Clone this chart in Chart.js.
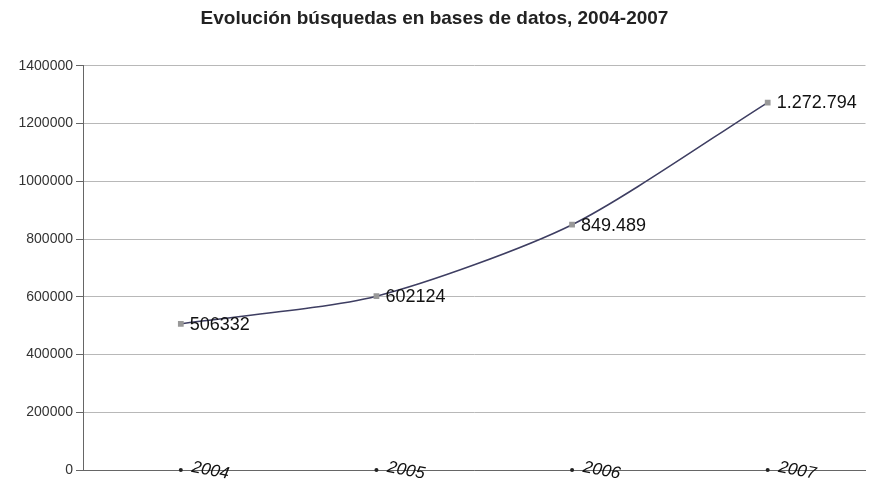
<!DOCTYPE html>
<html>
<head>
<meta charset="utf-8">
<script src="https://cdn.jsdelivr.net/npm/chart.js@4"></script>
<style>
  html, body { margin: 0; padding: 0; background: #fff; }
  #wrap { width: 871px; height: 485px; }
</style>
</head>
<body>
<div id="wrap"><canvas id="myChart"></canvas></div>
<script>
const years = ['2004', '2005', '2006', '2007'];
const searches = [506332, 602124, 849489, 1272794];
const pointLabels = ['506332', '602124', '849.489', '1.272.794'];
const yTicks = [0, 200000, 400000, 600000, 800000, 1000000, 1200000, 1400000];

// draws the slanted year labels on the axis and the value labels next to the points
const labelsPlugin = {
  id: 'labels',
  afterDatasetsDraw(chart) {
    const ctx = chart.ctx;
    const x = chart.scales.x;
    const y = chart.scales.y;
    const base = y.getPixelForValue(0);
    ctx.save();
    years.forEach((yr, i) => {
      const px = x.getPixelForValue(i);
      ctx.fillStyle = '#222';
      ctx.beginPath();
      ctx.arc(px, base, 2, 0, Math.PI * 2);
      ctx.fill();
      ctx.save();
      ctx.translate(px + 11, base - 3);
      ctx.rotate(11 * Math.PI / 180);
      ctx.font = 'italic 17px Arial';
      ctx.textAlign = 'left';
      ctx.textBaseline = 'middle';
      ctx.fillStyle = '#111';
      ctx.fillText(yr, 0, 0);
      ctx.restore();
    });
    const meta = chart.getDatasetMeta(0);
    meta.data.forEach((pt, i) => {
      ctx.font = '18px Arial';
      ctx.textAlign = 'left';
      ctx.textBaseline = 'middle';
      ctx.fillStyle = '#111';
      ctx.fillText(pointLabels[i], pt.x + 9, pt.y + 1);
    });
    ctx.restore();
  }
};

const chart = new Chart(document.getElementById('myChart'), {
  type: 'line',
  data: {
    labels: years,
    datasets: [{
      label: 'Búsquedas',
      data: searches,
      borderColor: '#3e3e62',
      borderWidth: 1.5,
      tension: 0.25,
      pointStyle: 'rect',
      pointRadius: 3,
      pointBackgroundColor: '#999',
      pointBorderColor: '#999'
    }]
  },
  options: {
    responsive: true,
    maintainAspectRatio: false,
    animation: false,
    layout: {
      padding: { top: 0, right: 2, bottom: 7, left: 0 }
    },
    plugins: {
      legend: { display: false },
      tooltip: { enabled: false },
      title: {
        display: true,
        text: 'Evolución búsquedas en bases de datos, 2004-2007',
        color: '#222',
        font: { family: 'Arial', size: 19, weight: 'bold' },
        padding: { top: 7, bottom: 36 }
      }
    },
    scales: {
      x: {
        offset: true,
        grid: { display: false },
        border: { color: '#666' },
        ticks: { display: false }
      },
      y: {
        min: 0,
        max: 1400000,
        afterBuildTicks: (scale) => {
          scale.ticks = yTicks.map(v => ({ value: v }));
        },
        afterFit: (scale) => {
          scale.width = 83;
        },
        grid: {
          color: '#b8b8b8',
          tickColor: '#666',
          tickLength: 7
        },
        border: { color: '#666' },
        ticks: {
          color: '#333',
          padding: 3,
          font: { family: 'Arial', size: 14 },
          callback: (v) => String(v)
        }
      }
    }
  },
  plugins: [labelsPlugin]
});
</script>
</body>
</html>
